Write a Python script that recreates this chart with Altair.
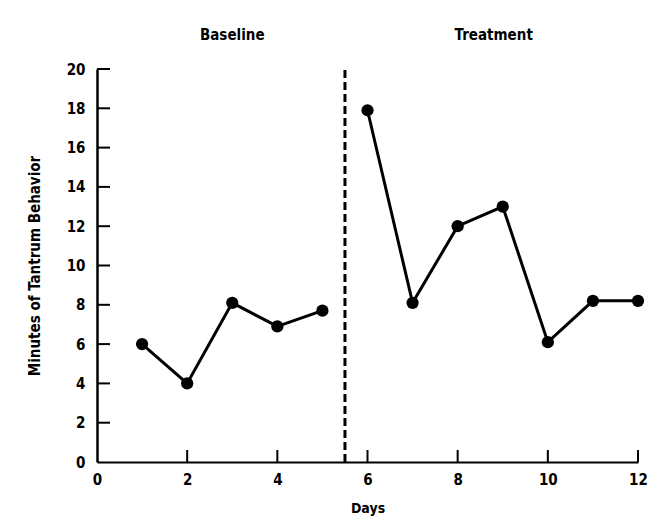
import altair as alt
import pandas as pd

# Data
days = [1, 2, 3, 4, 5, 6, 7, 8, 9, 10, 11, 12]
minutes = [6, 4, 8.1, 6.9, 7.7, 17.9, 8.1, 12, 13, 6.1, 8.2, 8.2]
phases = ["Baseline"] * 5 + ["Treatment"] * 7
phase_names = ["Baseline", "Treatment"]
phase_label_x = [3.0, 8.8]
phase_change = [5.5]
x_ticks = [0, 2, 4, 6, 8, 10, 12]
y_ticks = [0, 2, 4, 6, 8, 10, 12, 14, 16, 18, 20]

FONT = "DejaVu Sans Condensed, Liberation Sans Narrow, Roboto, sans-serif"
W, H = 541, 393

df = pd.DataFrame({"day": days, "minutes": minutes, "phase": phases})
labels_df = pd.DataFrame({"x": phase_label_x, "label": phase_names})
change_df = pd.DataFrame({"x": phase_change, "y0": [0], "y1": [20]})
xt_df = pd.DataFrame({"t": x_ticks[1:]})
yt_df = pd.DataFrame({"t": y_ticks[1:]})

xscale = alt.Scale(domain=[0, 12], nice=False, zero=False)
yscale = alt.Scale(domain=[0, 20], nice=False)

xaxis = alt.Axis(values=x_ticks, ticks=False, grid=False, domainColor="black",
                 domainWidth=2, labelFont=FONT, labelFontSize=15, labelFontWeight="bold",
                 labelColor="black", labelPadding=10, title="Days", titleFont=FONT,
                 titleFontSize=14, titleFontWeight="bold", titleColor="black",
                 titlePadding=14, labelFlush=False, labelOverlap=False)
yaxis = alt.Axis(values=y_ticks, ticks=False, grid=False, domainColor="black",
                 domainWidth=2.5, labelFont=FONT, labelFontSize=15, labelFontWeight="bold",
                 labelColor="black", labelPadding=12, title="Minutes of Tantrum Behavior",
                 titleFont=FONT, titleFontSize=15, titleFontWeight="bold",
                 titleColor="black", titlePadding=24, labelFlush=False, labelOverlap=False)

base = alt.Chart(df)

line = base.mark_line(color="black", strokeWidth=3).encode(
    x=alt.X("day:Q", scale=xscale, axis=xaxis),
    y=alt.Y("minutes:Q", scale=yscale, axis=yaxis),
    detail="phase:N",
)
pts = base.mark_point(filled=True, color="black", size=150, opacity=1).encode(
    x=alt.X("day:Q", scale=xscale, axis=xaxis),
    y=alt.Y("minutes:Q", scale=yscale, axis=yaxis),
)
change = alt.Chart(change_df).mark_rule(color="black", strokeWidth=3, strokeDash=[8, 4]).encode(
    x=alt.X("x:Q", scale=xscale, axis=xaxis),
    y=alt.Y("y0:Q", scale=yscale, axis=yaxis),
    y2="y1:Q",
)
xt = alt.Chart(xt_df).mark_rule(color="black", strokeWidth=2).encode(
    x=alt.X("t:Q", scale=xscale, axis=xaxis),
    y=alt.value(H),
    y2=alt.value(H - 12),
)
yt = alt.Chart(yt_df).mark_rule(color="black", strokeWidth=2).encode(
    y=alt.Y("t:Q", scale=yscale, axis=yaxis),
    x=alt.value(0),
    x2=alt.value(13),
)
phase_text = alt.Chart(labels_df).mark_text(
    font=FONT, fontSize=15, fontWeight="bold", color="black", clip=False
).encode(
    x=alt.X("x:Q", scale=xscale, axis=xaxis),
    y=alt.value(-34),
    text="label:N",
)

chart = alt.layer(line, change, pts, xt, yt, phase_text).properties(
    width=W, height=H,
    background="white",
    autosize=alt.AutoSizeParams(type="none"),
    padding={"left": 89, "top": 61, "right": 20, "bottom": 55},
).configure_view(stroke=None, strokeWidth=0).configure_axis(labelOverlap=False)

chart.save("out.html", embed_options={"renderer": "svg", "actions": False})
